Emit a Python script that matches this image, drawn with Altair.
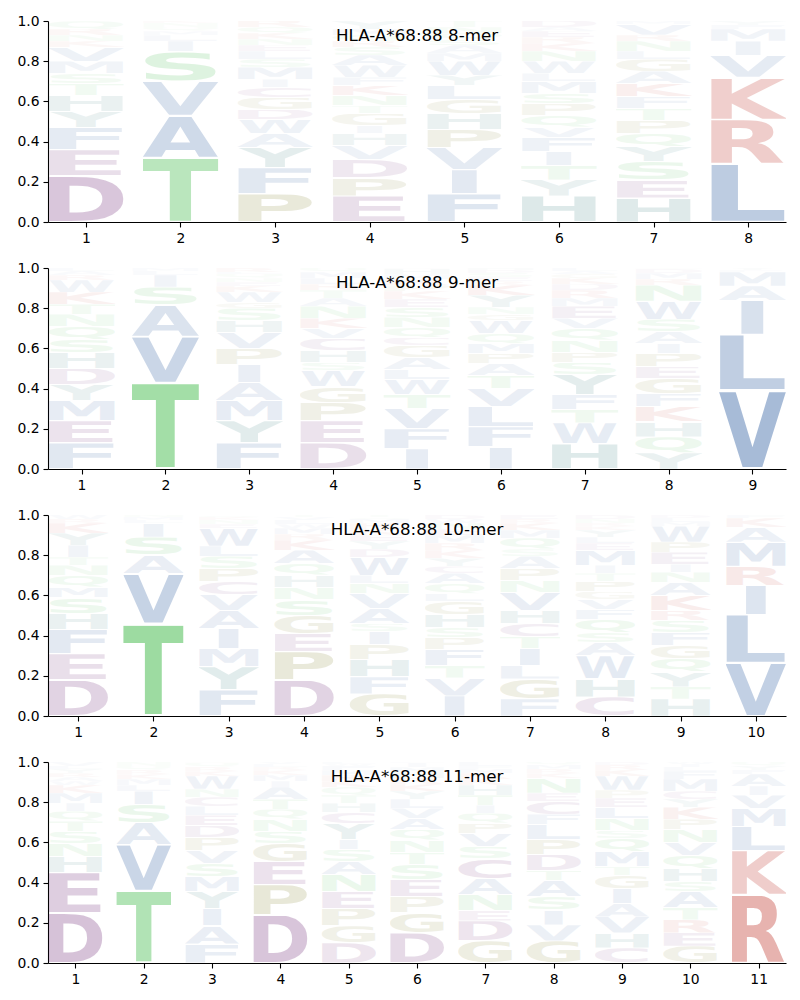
import base64
import altair as alt
import pandas as pd

MOTIF = "HLA-A*68:88"

# ---- letters (bottom -> top) and probabilities per position ----
P8_LETTERS = ["DEFYHTSMVKNRQ", "TAVSILMQNK", "PFYAWDGCIMSLENKQR", "EPDVHIGTNKFWASRQMY",
              "FIVPHGLYWMASQNT", "HYTIFVQPSMLWNKREAD", "HESYQPTFKAGLNRVM", "LRKVIMFY"]
P8_HEIGHTS = [
    [.23, .13, .11, .08, .08, .06, .05, .06, .07, .03, .03, .03, .04],
    [.32, .21, .17, .15, .05, .03, .02, .02, .02, .01],
    [.14, .13, .10, .07, .07, .05, .06, .05, .04, .06, .04, .04, .03, .03, .03, .03, .03],
    [.13, .09, .09, .07, .06, .04, .06, .04, .05, .05, .04, .06, .05, .04, .03, .03, .03, .04],
    [.14, .12, .11, .09, .08, .07, .07, .05, .07, .04, .04, .03, .03, .03, .03],
    [.13, .08, .07, .07, .07, .05, .06, .06, .05, .06, .04, .06, .05, .04, .03, .03, .02, .03],
    [.12, .09, .09, .075, .065, .065, .06, .06, .065, .06, .06, .04, .05, .03, .055, .015],
    [.29, .22, .21, .11, .07, .06, .02, .02],
]

P9_LETTERS = ["FEMYDHSQNTKWRAL", "TVASILM", "FYMAIPVHSGWKENQLR", "DEPGWSHCVKNATRLMQ",
              "IFVTWLAGCQNSEKPRMHD", "IFLVTAPMQWGNYKRESDH", "HWTFYSPNQVEMRDKGAL",
              "YQHKFGEPIASWNRMDT", "VLIAMFY"]
P9_HEIGHTS = [
    [.13, .11, .10, .08, .08, .08, .065, .065, .06, .05, .06, .06, .025, .02, .015],
    [.43, .23, .155, .09, .06, .02, .015],
    [.13, .11, .10, .09, .09, .08, .08, .06, .06, .03, .05, .03, .02, .02, .02, .01, .02],
    [.13, .11, .09, .08, .08, .04, .06, .06, .05, .05, .06, .04, .04, .03, .03, .03, .02],
    [.10, .10, .10, .07, .075, .05, .06, .06, .04, .05, .05, .05, .04, .04, .03, .03, .025, .025, .005],
    [.11, .10, .10, .09, .065, .06, .05, .05, .05, .065, .03, .035, .06, .05, .02, .02, .02, .015, .01],
    [.125, .105, .065, .075, .10, .06, .05, .06, .06, .05, .06, .04, .04, .03, .03, .02, .015, .015],
    [.08, .08, .075, .075, .065, .075, .06, .065, .05, .06, .06, .09, .08, .03, .03, .02, .005],
    [.39, .28, .17, .07, .07, .01, .01],
]

P10_LETTERS = ["DEFHSMQNTIYKRW", "TVASILMN", "FYMIAVCPSLWENKQ", "DPEGSNHQAKRMWLVT",
               "GFHPISAVNLWDYEKRMQT", "IVTFPSHGLQACYKRMENWD", "FGLITCHVNPASQMKRE",
               "CHWASQFVGPTIMELYKRND", "HTYQGFSRKANIEPWMLD", "VLIRMAKF"]
P10_HEIGHTS = [
    [.18, .13, .12, .08, .08, .05, .06, .05, .04, .06, .06, .05, .02, .02],
    [.46, .25, .09, .09, .07, .015, .015, .01],
    [.13, .115, .09, .10, .09, .08, .065, .065, .06, .05, .09, .02, .02, .015, .01],
    [.18, .14, .09, .09, .08, .06, .06, .06, .065, .05, .03, .03, .02, .02, .015, .01],
    [.11, .085, .085, .075, .065, .04, .075, .075, .05, .04, .09, .04, .04, .03, .03, .03, .02, .01, .01],
    [.10, .09, .06, .08, .06, .05, .065, .065, .04, .05, .05, .035, .04, .04, .035, .04, .03, .03, .02, .02],
    [.085, .10, .065, .085, .06, .065, .065, .09, .06, .06, .06, .035, .055, .04, .035, .02, .02],
    [.095, .09, .115, .065, .05, .065, .05, .05, .04, .05, .04, .04, .075, .035, .03, .035, .02, .015, .02, .02],
    [.085, .06, .075, .065, .065, .065, .06, .05, .075, .065, .05, .04, .06, .05, .08, .02, .02, .015],
    [.265, .24, .145, .095, .12, .075, .045, .015],
]

P11_LETTERS = ["DEHNSTQIMKWARYLV", "TVASILMKRQN", "FAIYMSVPDELCNWKRQG", "DPEGSNQTAIMKRLV",
               "DGPENASIYCHTQKRMFWL", "DGPESTNQAVLYKRHMIF", "GDENACSVPQITHKRMFL",
               "GVISATDPLFCENKRMQ", "CHVAIGTMQSNLEPWKRD", "GERTASHQVNPKYCMFLIW", "RKLMVIAFYQ"]
P11_HEIGHTS = [
    [.25, .20, .08, .065, .06, .05, .05, .04, .05, .04, .02, .02, .02, .02, .015, .02],
    [.36, .23, .11, .09, .065, .03, .03, .025, .02, .02, .02],
    [.095, .09, .085, .085, .075, .065, .065, .065, .06, .05, .045, .045, .04, .065, .025, .02, .02, .005],
    [.24, .15, .115, .09, .06, .06, .05, .05, .06, .03, .03, .025, .015, .015, .01],
    [.10, .085, .085, .085, .085, .065, .06, .05, .08, .055, .045, .04, .04, .03, .03, .025, .02, .01, .01],
    [.15, .10, .08, .085, .075, .06, .06, .055, .055, .05, .045, .04, .035, .03, .03, .025, .02, .005],
    [.11, .10, .05, .08, .08, .10, .06, .065, .05, .05, .04, .05, .05, .03, .03, .02, .015, .02],
    [.11, .08, .075, .065, .08, .05, .08, .075, .075, .05, .065, .04, .075, .025, .02, .02, .015],
    [.075, .075, .08, .065, .075, .065, .045, .075, .065, .04, .06, .055, .045, .04, .07, .03, .025, .015],
    [.085, .065, .065, .06, .08, .05, .065, .065, .065, .065, .05, .06, .04, .04, .06, .04, .02, .015, .01],
    [.34, .22, .12, .09, .065, .045, .06, .02, .02, .02],
]

PANELS = [(8, P8_LETTERS, P8_HEIGHTS), (9, P9_LETTERS, P9_HEIGHTS),
          (10, P10_LETTERS, P10_HEIGHTS), (11, P11_LETTERS, P11_HEIGHTS)]

# ---- styling ----
GROUPS = {
    "#20539b": "AVLIMFW",
    "#bb2217": "KR",
    "#5e1067": "DEC",
    "#2bb335": "STNQ",
    "#696905": "PG",
    "#015d5d": "HY",
}
COLOR = {ch: col for col, chars in GROUPS.items() for ch in chars}

# approximate ink box of DejaVu Sans Bold capitals (left bearing, ink width) per 1000 em
INK = {
    "A": (5, 764), "C": (45, 645), "D": (82, 700), "E": (82, 550), "F": (82, 530),
    "G": (45, 715), "H": (82, 673), "I": (82, 208), "K": (82, 700), "L": (82, 540),
    "M": (82, 831), "N": (82, 673), "P": (82, 620), "Q": (45, 760), "R": (82, 690),
    "S": (50, 620), "T": (5, 672), "V": (5, 764), "W": (10, 1083), "Y": (0, 724),
}
NARROW = {"I": 0.36}


def glyph_url(letter):
    lsb, ink = INK[letter]
    if letter == "Q":
        top, bot = 745, 150
    elif letter in "CGS":
        top, bot = 745, 15
    else:
        top, bot = 729, 0
    svg = (
        f"<svg xmlns='http://www.w3.org/2000/svg' viewBox='{lsb} {-top} {ink} {top + bot}' "
        f"preserveAspectRatio='none'><text x='0' y='0' font-family='DejaVu Sans' "
        f"font-weight='bold' font-size='1000' fill='{COLOR[letter]}'>{letter}</text></svg>"
    )
    return "data:image/svg+xml;base64," + base64.b64encode(svg.encode()).decode()


URLS = {ch: glyph_url(ch) for ch in INK}

PLOT_W, PLOT_H = 738, 201


def panel(n, letters, heights):
    rows = []
    for i, (ls, hs) in enumerate(zip(letters, heights), start=1):
        base = 0.0
        for ch, h in zip(ls, hs):
            wf = NARROW.get(ch, 1.0)
            pad = 0.02 * h
            rows.append(dict(letter=ch, pos=i,
                             x0=i - 0.4 * wf, x1=i + 0.4 * wf,
                             y0=base + pad, y1=base + h - pad,
                             alpha=h, url=URLS[ch]))
            base += h
    df = pd.DataFrame(rows)
    xs = alt.Scale(domain=[0.6, n + 0.4], nice=False, zero=False)
    ys = alt.Scale(domain=[0, 1], nice=False, zero=True)
    logo = alt.Chart(df).mark_image(aspect=False).encode(
        x=alt.X("x0:Q", scale=xs, title=None,
                axis=alt.Axis(values=list(range(1, n + 1)), format="d", title=None)),
        x2="x1:Q",
        y=alt.Y("y0:Q", scale=ys, title=None,
                axis=alt.Axis(values=[0, 0.2, 0.4, 0.6, 0.8, 1.0], format=".1f", title=None)),
        y2="y1:Q",
        url="url:N",
        opacity=alt.Opacity("alpha:Q", scale=None),
    )
    tdf = pd.DataFrame({"tx": [(n + 1) / 2], "ty": [0.925], "label": [f"{MOTIF} {n}-mer"]})
    title = alt.Chart(tdf).mark_text(
        font="DejaVu Sans", fontSize=16.7, color="black", align="center", baseline="middle"
    ).encode(
        x=alt.X("tx:Q", scale=xs, title=None),
        y=alt.Y("ty:Q", scale=ys, title=None),
        text="label:N",
    )
    return alt.layer(logo, title).properties(width=PLOT_W, height=PLOT_H)


chart = alt.vconcat(*[panel(n, L, H) for n, L, H in PANELS], spacing=46, bounds="flush").properties(
    padding={"left": 8, "top": 6, "right": 5, "bottom": 5}
).configure_view(stroke=None).configure_axis(
    grid=False,
    labelFont="DejaVu Sans",
    labelFontSize=13.9,
    labelColor="black",
    tickColor="black",
    domainColor="black",
    tickSize=5,
    tickWidth=1.1,
    domainWidth=1.1,
    labelPadding=4,
)

chart.save("out.html", embed_options={"renderer": "svg", "actions": False})
